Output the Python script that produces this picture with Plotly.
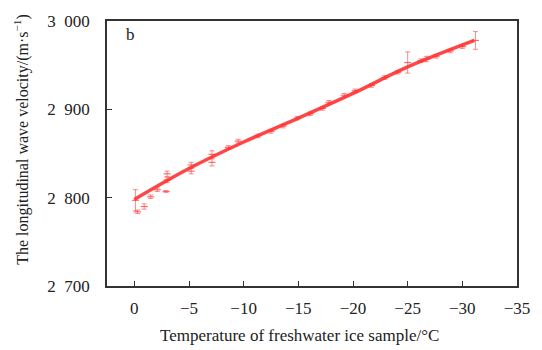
import plotly.graph_objects as go

# Fitted curve
fit_temp = [0, -5, -10, -15, -20, -25, -31.1]
fit_vel = [2798, 2833, 2863, 2890, 2918, 2948, 2978]

meas_temp = [-0.1, -0.3, -0.9, -1.5, -2.1, -2.9, -3.0, -3.0, -5.2, -5.2, -7.1, -7.1,
             -8.6, -9.5, -11.3, -12.5, -13.6, -14.9, -16.1, -17.2, -17.8, -19.2, -20.2,
             -21.7, -22.9, -24.1, -25.0, -26.2, -26.7, -27.6, -28.9, -30.0, -31.2]
meas_vel = [2797, 2784, 2790, 2801, 2809, 2807, 2820, 2827, 2830, 2837, 2840, 2849,
            2857, 2864, 2870, 2875, 2881, 2890, 2895, 2901, 2908, 2916, 2921,
            2927, 2936, 2942, 2953, 2955, 2957, 2960, 2966, 2971, 2978]
meas_err = [12, 2, 3, 2, 2, 1, 3, 3, 3, 3, 4, 4,
            2, 2, 2, 2, 2, 2, 2, 2, 2, 2, 2,
            2, 2, 2, 12, 2, 3, 2, 2, 2, 10]

x_ticks = [0, -5, -10, -15, -20, -25, -30, -35]
y_ticks = [2700, 2800, 2900, 3000]
y_ticktext = ["2\u2002700", "2\u2002800", "2\u2002900", "3\u2002000"]

fig = go.Figure()
fig.add_trace(go.Scatter(
    x=meas_temp, y=meas_vel, mode="markers",
    marker=dict(symbol="line-ew", size=5, line=dict(color="rgba(255,60,60,0.75)", width=1.2)),
    error_y=dict(type="data", array=meas_err, visible=True, color="rgba(255,60,60,0.6)",
                 thickness=1, width=2.5),
    showlegend=False, hoverinfo="skip"))
fig.add_trace(go.Scatter(
    x=fit_temp, y=fit_vel, mode="lines",
    line=dict(color="rgba(255,50,50,0.9)", width=3.5, shape="spline", smoothing=1),
    showlegend=False))

tick_font = dict(family="Liberation Serif", size=17, color="#222")
title_font = dict(family="Liberation Serif", size=17, color="#222")
fig.update_layout(
    width=542, height=350,
    margin=dict(l=107, r=20, t=16, b=64),
    paper_bgcolor="white", plot_bgcolor="white",
    font=dict(family="Liberation Serif", size=17, color="#222"),
    xaxis=dict(range=[2.5, -35], tickvals=x_ticks, ticks="inside", ticklen=5, tickcolor="#333",
               showgrid=False, zeroline=False, showline=True, linecolor="#333", linewidth=1.5, mirror=True,
               tickfont=tick_font, ticklabelstandoff=6),
    yaxis=dict(range=[2700, 3000], tickvals=y_ticks, ticktext=y_ticktext, ticks="inside", ticklen=5,
               tickcolor="#333",
               showgrid=False, zeroline=False, showline=True, linecolor="#333", linewidth=1.5, mirror=True,
               tickfont=tick_font, ticklabelstandoff=12),
    annotations=[
        dict(text="b", x=(130.5 - 107) / 415, y=(286 - 30) / 270, xref="paper", yref="paper",
             xanchor="center", yanchor="middle", showarrow=False,
             font=dict(family="Liberation Serif", size=17, color="#222")),
        dict(text="Temperature of freshwater ice sample/°C", x=(302 - 107) / 415, y=(286 - 336) / 270,
             xref="paper", yref="paper", xanchor="center", yanchor="middle", showarrow=False,
             font=title_font),
        dict(text="The longitudinal wave velocity/(m·s<sup>−1</sup>)", x=(21 - 107) / 415,
             y=(286 - 137) / 270, xref="paper", yref="paper", xanchor="center", yanchor="middle",
             textangle=-90, showarrow=False, font=dict(family="Liberation Serif", size=16, color="#222")),
    ],
)
fig.write_html("out.html")
